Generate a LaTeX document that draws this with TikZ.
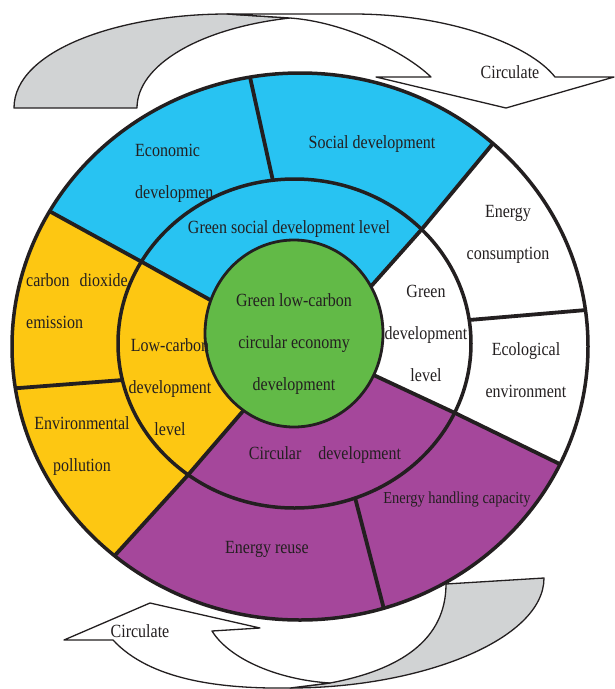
\documentclass[tikz,border=0pt]{standalone}
\usepackage{fontspec}
\setmainfont{Liberation Serif}[FakeStretch=0.86]
\definecolor{ink}{RGB}{35,31,32}
\definecolor{socblue}{RGB}{40,195,242}
\definecolor{lowyellow}{RGB}{253,199,18}
\definecolor{circpurple}{RGB}{165,71,155}
\definecolor{coregreen}{RGB}{98,186,71}
\definecolor{backgray}{RGB}{209,211,212}
\begin{document}
\begin{tikzpicture}[x=1pt,y=-1pt,line join=round,
  arrowline/.style={draw=ink,line width=1.3pt},
  divider/.style={draw=ink,line width=3.8pt},
  ringline/.style={draw=ink,line width=3.5pt},
  lbl/.style={font=\fontsize{18.6}{42}\selectfont,text=ink,inner sep=0pt,align=center},
  lblleft/.style={lbl,align=left,anchor=west}]
\useasboundingbox (0,0) rectangle (615,689);

% ---- circulate arrows ----
\filldraw[arrowline,fill=backgray] (14,108) -- (137,108)
  .. controls (137,65) and (200,28) .. (290,18) -- (227,14)
  .. controls (120,14) and (14,50) .. cycle;
\filldraw[arrowline,fill=white] (227,14) -- (353,14)
  .. controls (450,14) and (530,45) .. (555,77) -- (614,77) -- (506,108)
  -- (376,77) -- (431,77) .. controls (405,52) and (345,22) .. (290,18) -- cycle;
\filldraw[arrowline,fill=backgray] (446,584) -- (544,578)
  .. controls (544,640) and (420,688) .. (290,688) -- (330,683)
  .. controls (400,670) and (446,640) .. cycle;
\filldraw[arrowline,fill=white] (113,640) -- (64,640) -- (150,603) -- (260,628)
  -- (212,631) .. controls (230,660) and (280,680) .. (330,683) -- (290,688)
  .. controls (220,689) and (150,680) .. cycle;

% ---- key points ----
\coordinate (c) at (294,333.5);
\coordinate (d1i) at (230,311); \coordinate (d1m) at (142,262); \coordinate (d1x) at (40,206);
\coordinate (d2i) at (262,389); \coordinate (d2m) at (188,475); \coordinate (d2x) at (108,563);
\coordinate (d3i) at (350,310); \coordinate (d3m) at (422,229); \coordinate (d3x) at (500,135);
\coordinate (d4i) at (350,364); \coordinate (d4m) at (455,413); \coordinate (d4x) at (572,470);
\coordinate (s5a) at (123,380); \coordinate (s5b) at (6,389);
\coordinate (s6a) at (273,181); \coordinate (s6b) at (248,68);
\coordinate (s7a) at (469,320); \coordinate (s7b) at (598,309);
\coordinate (s8a) at (355,497.5); \coordinate (s8b) at (386,617);

% ---- sectors ----
\begin{scope}
\clip (300,346.5) ellipse [x radius=288pt,y radius=273.5pt];
\fill[white] (0,0) rectangle (615,689);
\fill[socblue] (c) -- (d1i) -- (d1m) -- (d1x) -- (0,206) -- (0,0) -- (615,0)
  -- (d3x) -- (d3m) -- (d3i) -- cycle;
\fill[lowyellow] (c) -- (d1i) -- (d1m) -- (d1x) -- (0,206) -- (0,620)
  -- (d2x) -- (d2m) -- (d2i) -- cycle;
\fill[circpurple] (c) -- (d2i) -- (d2m) -- (d2x) -- (108,689) -- (615,689)
  -- (615,470) -- (d4x) -- (d4m) -- (d4i) -- cycle;
\draw[divider] (d1i) -- (d1m) -- (d1x);
\draw[divider] (d2i) -- (d2m) -- (d2x);
\draw[divider] (d3i) -- (d3m) -- (d3x);
\draw[divider] (d4i) -- (d4m) -- (d4x);
\draw[divider] (s5a) -- (s5b);
\draw[divider] (s6a) -- (s6b);
\draw[divider] (s7a) -- (s7b);
\draw[divider] (s8a) -- (s8b);
\end{scope}
\draw[ringline] (294.5,343.5) ellipse [x radius=176.5pt,y radius=164.5pt];
\draw[ringline] (300,346.5) ellipse [x radius=288pt,y radius=273.5pt];
\filldraw[draw=ink,line width=2.8pt,fill=coregreen] (c) ellipse [x radius=89pt,y radius=93.5pt];

% ---- labels ----
\node[lblleft] (econ) at (135,173) {Economic\\developmen};
\node[lbl] (social) at (372,144) {Social development};
\node[lbl] (gsdl) at (289,229) {Green social development level};
\node[lblleft] (co2) at (26,301) {carbon\hspace{10pt}dioxide\\emission};
\node[lbl] (envp) at (82,446) {Environmental\\pollution};
\node[lbl] (lowc) at (170,387) {Low-carbon\\development\\level};
\node[lbl] (core) at (294,344) {Green low-carbon\\circular economy\\development};
\node[lbl] (gdl) at (426,333) {Green\\development\\level};
\node[lbl] (encons) at (508,234) {Energy\\consumption};
\node[lbl] (eco) at (526,370) {Ecological\\environment};
\node[lbl] (circdev) at (325,455) {Circular\hspace{17pt}development};
\node[lbl,font=\fontsize{16.8}{40}\selectfont] (ehc) at (457,499) {Energy handling capacity};
\node[lbl] (ereuse) at (267,549) {Energy reuse};
\node[lbl] (circtop) at (510,72) {Circulate};
\node[lbl] (circbot) at (140,631) {Circulate};
\end{tikzpicture}
\end{document}
